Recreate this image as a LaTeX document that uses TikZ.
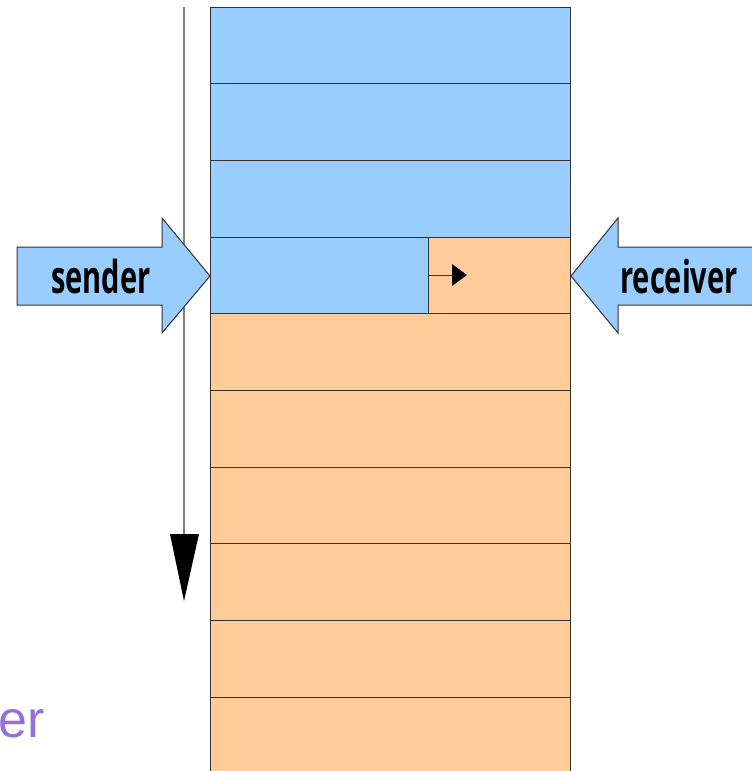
\documentclass[tikz,border=0pt]{standalone}
\usepackage{fontspec}
\setmainfont{Open Sans}
\newfontfamily\labelfont{Liberation Sans}
\definecolor{cellblue}{HTML}{99CCFF}
\definecolor{cellorange}{HTML}{FFCC99}
\definecolor{edgegray}{HTML}{333333}
\definecolor{labelpurple}{HTML}{9370DB}
\begin{document}
\begin{tikzpicture}[x=0.75pt,y=-0.75pt,
  cell/.style={draw=edgegray,line width=0.75pt,minimum width=270pt,minimum height=57.5pt,inner sep=0pt,outer sep=0pt,anchor=north west},
  bigarrow/.style={draw=edgegray,line width=0.75pt,fill=cellblue,line join=miter},
  arrowtext/.style={font=\fontsize{34}{40}\selectfont\bfseries,xscale=0.64,inner sep=0pt}]
\useasboundingbox (0,0) rectangle (752,771);
% rows
\node[cell,fill=cellblue] (r1) at (210,7) {};
\node[cell,fill=cellblue] (r2) at (210,83.7) {};
\node[cell,fill=cellblue] (r3) at (210,160.4) {};
\node[cell,fill=cellorange] (r4) at (210,237.1) {};
\node[cell,fill=cellorange] (r5) at (210,313.8) {};
\node[cell,fill=cellorange] (r6) at (210,390.5) {};
\node[cell,fill=cellorange] (r7) at (210,467.2) {};
\node[cell,fill=cellorange] (r8) at (210,543.9) {};
\node[cell,fill=cellorange] (r9) at (210,620.6) {};
\node[cell,fill=cellorange] (r10) at (210,697.3) {};
% blue part of row 4
\node[draw=edgegray,line width=0.75pt,fill=cellblue,minimum width=163.5pt,minimum height=57.5pt,inner sep=0pt,outer sep=0pt,anchor=north west] (r4a) at (210,237.1) {};
% small arrow
\coordinate (sa) at (428,275);
\coordinate (sb) at (452,275);
\draw[edgegray,line width=0.75pt] (sa) -- (sb);
\fill[black] (452,264) -- (467,275) -- (452,286) -- cycle;
% vertical time arrow
\coordinate (va) at (184,7);
\coordinate (vb) at (184,536);
\draw[gray,line width=1pt] (va) -- (vb);
\fill[black] (170,534) -- (199,534) -- (184,601) -- cycle;
% sender arrow
\draw[bigarrow] (17,247) -- (162,247) -- (162,218) -- (210,276) -- (162,333) -- (162,305) -- (17,305) -- cycle;
\node[arrowtext] (sender) at (101,276) {sender};
% receiver arrow
\draw[bigarrow] (770,247) -- (618,247) -- (618,218) -- (571,276) -- (618,333) -- (618,305) -- (770,305);
\node[arrowtext] (receiver) at (679,276) {receiver};
% partial label
\node[anchor=base east,inner sep=0pt,text=labelpurple,font=\labelfont\fontsize{39}{48}\selectfont] (lbl) at (45,737) {er};
\end{tikzpicture}
\end{document}
